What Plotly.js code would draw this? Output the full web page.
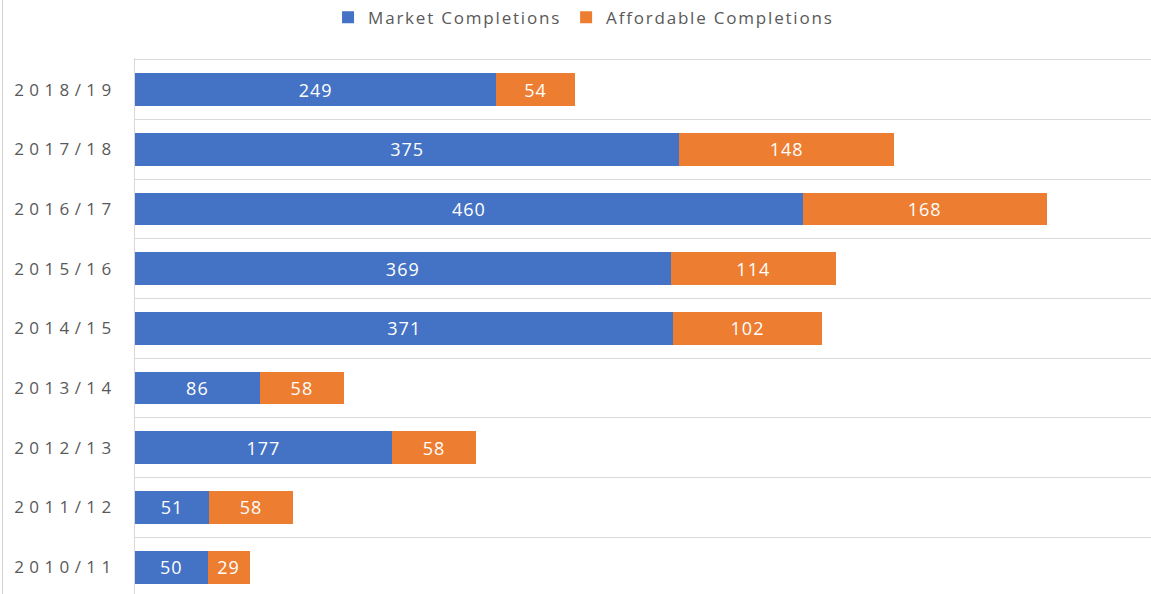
<!DOCTYPE html>
<html>
<head>
<meta charset="utf-8">
<script src="https://cdn.plot.ly/plotly-3.0.1.min.js"></script>
<style>
  html, body { margin: 0; padding: 0; background: #fff; }
  #wrap { position: relative; width: 1151px; height: 594px; }
  #chart { width: 1151px; height: 594px; }
  #frame { position: absolute; left: 2px; top: 0; width: 1px; height: 594px; background: #d4d4d4; }
  .ytick text { letter-spacing: 5.4px; }
  .legendtext { letter-spacing: 1.8px; }
  .bartext { letter-spacing: 1px; }
</style>
</head>
<body>
<div id="wrap">
  <div id="chart"></div>
  <div id="frame"></div>
</div>
<script>
const years = ["2010/11", "2011/12", "2012/13", "2013/14", "2014/15", "2015/16", "2016/17", "2017/18", "2018/19"];
const marketCompletions = [50, 51, 177, 86, 371, 369, 460, 375, 249];
const affordableCompletions = [29, 58, 58, 58, 102, 114, 168, 148, 54];
const seriesNames = ["Market Completions", "Affordable Completions"];
const seriesColors = ["#4472C4", "#ED7D31"];

const fontFamily = "'Open Sans', 'Noto Sans', sans-serif";

function barTrace(values, name, color) {
  return {
    type: "bar",
    orientation: "h",
    y: years,
    x: values,
    name: name,
    marker: { color: color, line: { width: 0 } },
    text: values.map(String),
    textposition: "inside",
    insidetextanchor: "middle",
    constraintext: "none",
    textfont: { color: "#ffffff", size: 18, family: fontFamily },
    hoverinfo: "x+y+name"
  };
}

const data = [
  barTrace(marketCompletions, seriesNames[0], seriesColors[0]),
  barTrace(affordableCompletions, seriesNames[1], seriesColors[1])
];

const layout = {
  width: 1151,
  height: 594,
  margin: { l: 135, r: 0, t: 58, b: 0, pad: 0, autoexpand: false },
  barmode: "stack",
  bargap: 0.45,
  paper_bgcolor: "#ffffff",
  plot_bgcolor: "#ffffff",
  font: { family: fontFamily, color: "#595959" },
  showlegend: true,
  legend: {
    orientation: "h",
    x: 0.19,
    xanchor: "left",
    y: 1.075,
    yanchor: "middle",
    font: { size: 17, color: "#595959", family: fontFamily },
    itemwidth: 30,
    traceorder: "normal",
    bgcolor: "rgba(0,0,0,0)"
  },
  xaxis: {
    range: [0, 700],
    showgrid: false,
    zeroline: false,
    showticklabels: false,
    showline: false,
    ticks: "",
    fixedrange: true
  },
  yaxis: {
    type: "category",
    categoryorder: "array",
    categoryarray: years,
    range: [-0.45, 8.53],
    showgrid: true,
    gridcolor: "#d9d9d9",
    gridwidth: 1,
    tickson: "boundaries",
    ticks: "",
    showline: true,
    linecolor: "#d9d9d9",
    linewidth: 1,
    zeroline: false,
    ticklabelstandoff: 14,
    tickfont: { size: 17, color: "#595959", family: fontFamily },
    fixedrange: true
  }
};

Plotly.newPlot("chart", data, layout, { displayModeBar: false, staticPlot: true });
</script>
</body>
</html>
